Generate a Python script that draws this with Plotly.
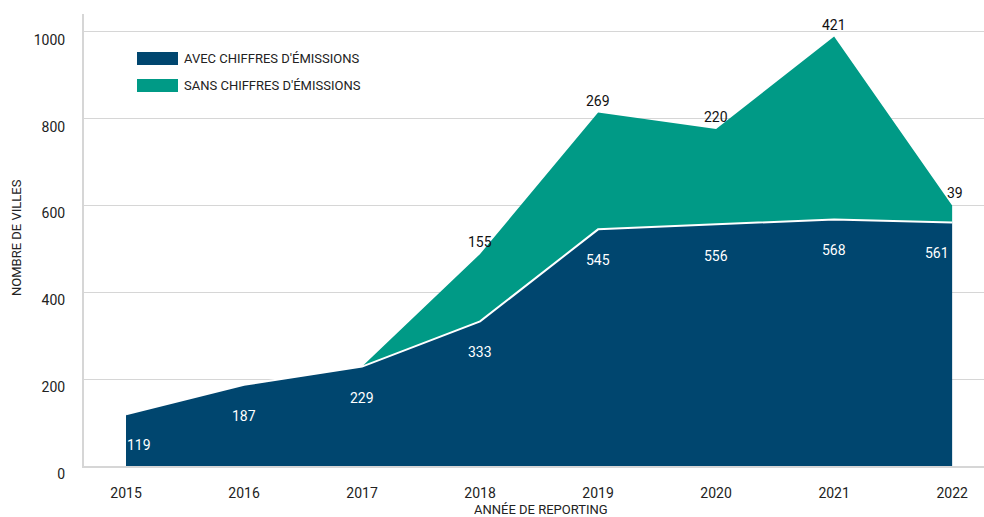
import plotly.graph_objects as go

# Reporting years and number of cities per category
years = [2015, 2016, 2017, 2018, 2019, 2020, 2021, 2022]
avec_chiffres = [119, 187, 229, 333, 545, 556, 568, 561]
sans_chiffres = [0, 0, 0, 155, 269, 220, 421, 39]
y_ticks = [0, 200, 400, 600, 800, 1000]

series_names = ["AVEC CHIFFRES D'ÉMISSIONS", "SANS CHIFFRES D'ÉMISSIONS"]
BLUE = "#00466F"
TEAL = "#009A86"
FONT = "Roboto"

# plot area geometry in pixels (figure 984 x 517)
W, H = 984, 517
ML, MR, MT, MB = 84, 0, 14, 51
PW, PH = W - ML - MR, H - MT - MB


def px_to_paper(x, y):
    return (x - ML) / PW, 1 - (y - MT) / PH


fig = go.Figure()

fig.add_trace(go.Scatter(
    x=years, y=avec_chiffres, name=series_names[0],
    mode="lines", stackgroup="s",
    line=dict(color="white", width=2), fillcolor=BLUE,
    hoverinfo="skip", showlegend=False,
))
fig.add_trace(go.Scatter(
    x=years, y=sans_chiffres, name=series_names[1],
    mode="lines", stackgroup="s",
    line=dict(color=TEAL, width=0), fillcolor=TEAL,
    hoverinfo="skip", showlegend=False,
))

annotations = []
totals = [a + b for a, b in zip(avec_chiffres, sans_chiffres)]

# white value labels inside the lower area
for i, (yr, v) in enumerate(zip(years, avec_chiffres)):
    xshift = 13 if i == 0 else (-15 if i == len(years) - 1 else 0)
    annotations.append(dict(
        x=yr, y=v, xref="x", yref="y", text=str(v), showarrow=False,
        yanchor="middle", yshift=-31, xshift=xshift,
        font=dict(family=FONT, size=14, color="white"),
    ))

# black value labels above the stack where the upper series is present
for i, (yr, v, t) in enumerate(zip(years, sans_chiffres, totals)):
    if v == 0:
        continue
    xshift = 3 if i == len(years) - 1 else 0
    annotations.append(dict(
        x=yr, y=t, xref="x", yref="y", text=str(v), showarrow=False,
        yanchor="bottom", yshift=2, xshift=xshift,
        font=dict(family=FONT, size=14, color="#111111"),
    ))

# legend: coloured swatches with labels
shapes = []
for k, (name, col) in enumerate(zip(series_names, [BLUE, TEAL])):
    top = 52 + k * 27
    x0, y0 = px_to_paper(137, top)
    x1, y1 = px_to_paper(178, top + 13)
    shapes.append(dict(type="rect", xref="paper", yref="paper",
                       x0=x0, x1=x1, y0=y1, y1=y0,
                       fillcolor=col, line=dict(width=0), layer="above"))
    tx, ty = px_to_paper(182, top + 6.5)
    annotations.append(dict(
        x=tx, y=ty, xref="paper", yref="paper", text=name, showarrow=False,
        xanchor="left", yanchor="middle",
        font=dict(family=FONT, size=13, color="#222222"),
    ))

# axis titles
tx, ty = px_to_paper(541, 510)
annotations.append(dict(x=tx, y=ty, xref="paper", yref="paper",
                        text="ANNÉE DE REPORTING", showarrow=False,
                        xanchor="center", yanchor="middle",
                        font=dict(family=FONT, size=13, color="#222222")))
tx, ty = px_to_paper(16, 238)
annotations.append(dict(x=tx, y=ty, xref="paper", yref="paper",
                        text="NOMBRE DE VILLES", showarrow=False, textangle=-90,
                        xanchor="center", yanchor="middle",
                        font=dict(family=FONT, size=13, color="#222222")))

fig.update_layout(
    width=W, height=H,
    margin=dict(l=ML, r=MR, t=MT, b=MB, pad=0),
    paper_bgcolor="white", plot_bgcolor="white",
    font=dict(family=FONT, size=13, color="#222222"),
    annotations=annotations, shapes=shapes,
    showlegend=False,
)
fig.update_xaxes(
    range=[2014.644, 2022.27], tickvals=years, ticktext=[str(y) for y in years],
    showgrid=False, zeroline=False, showline=True, linecolor="#D6D6D6", linewidth=2,
    ticks="", ticklabelstandoff=13,
    tickfont=dict(family=FONT, size=14, color="#222222"),
)
fig.update_yaxes(
    range=[0, 1041], tickvals=y_ticks,
    showgrid=True, gridcolor="#D6D6D6", gridwidth=1, zeroline=False,
    showline=True, linecolor="#D6D6D6", linewidth=2,
    ticks="", ticklabelstandoff=14, ticklabelshift=8,
    tickfont=dict(family=FONT, size=14, color="#222222"),
)

fig.write_html("out.html")
